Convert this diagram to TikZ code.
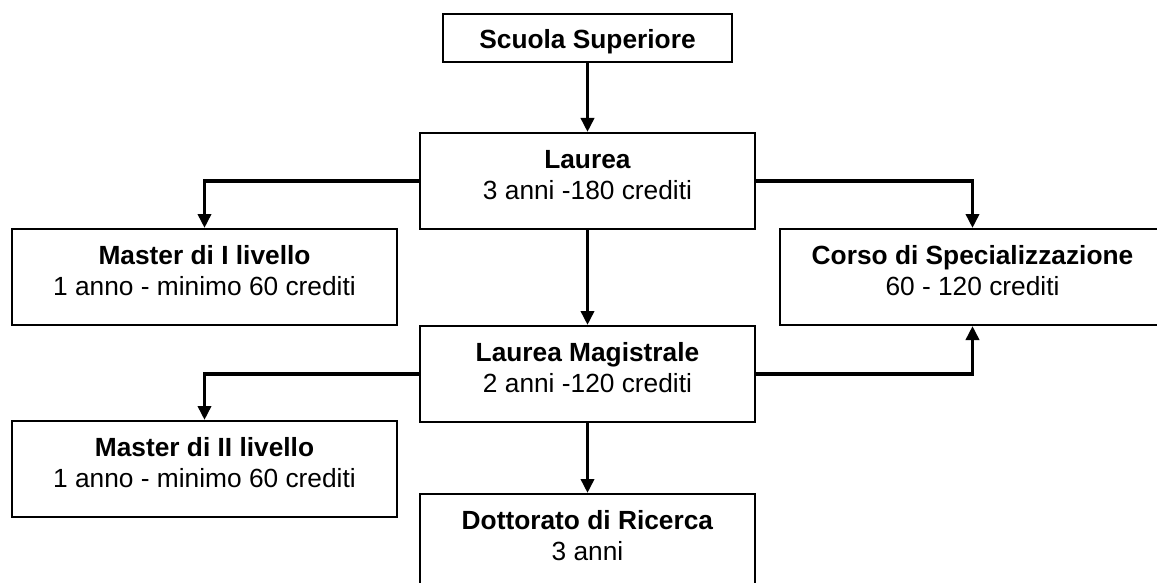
\documentclass[tikz,border=0pt]{standalone}
\usepackage{fontspec}
\setmainfont{Liberation Sans}
\usetikzlibrary{arrows.meta}

\tikzset{
  box/.style = {draw, line width=2pt, inner sep=0pt, align=center,
                minimum height=96pt, text height=50pt, text depth=14pt,
                font=\fontsize{26.3}{31}\selectfont},
  midbox/.style = {box, minimum width=335pt},
  sidebox/.style = {box, minimum width=385pt},
  link/.style = {line width=3.5pt, -{Triangle[width=13pt,length=14pt]}}
}

\begin{document}
\begin{tikzpicture}[x=1pt,y=-1pt]

            %\draw [help lines] (0,0) grid (1157,583);
            \useasboundingbox (0,0) rectangle (1157,583);
            \clip (0,0) rectangle (1157,583);

            \path   (587.5,38)  node (scuola) [box,minimum width=289pt,minimum height=48pt,text height=22pt,text depth=0pt] {\textbf{Scuola Superiore}}
                    (587.5,181) node (laurea) [midbox] {\textbf{Laurea}\\3 anni -180 crediti}
                    (204.5,277) node (master1) [sidebox] {\textbf{Master di I livello}\\1 anno - minimo 60 crediti}
                    (972.5,277) node (corso) [sidebox] {\textbf{Corso di Specializzazione}\\60 - 120 crediti}
                    (587.5,374) node (magistrale) [midbox] {\textbf{Laurea Magistrale}\\2 anni -120 crediti}
                    (204.5,469) node (master2) [sidebox] {\textbf{Master di II livello}\\1 anno - minimo 60 crediti}
                    (587.5,542) node (dottorato) [midbox] {\textbf{Dottorato di Ricerca}\\3 anni};

            \draw[link] (scuola) -- (laurea);
            \draw[link] (laurea) -- (magistrale);
            \draw[link] (magistrale) -- (dottorato);
            \draw[link] (laurea.west) -| (master1.north);
            \draw[link] (laurea.east) -| (corso.north);
            \draw[link] (magistrale.west) -| (master2.north);
            \draw[link] (magistrale.east) -| (corso.south);
        \end{tikzpicture}
\end{document}
